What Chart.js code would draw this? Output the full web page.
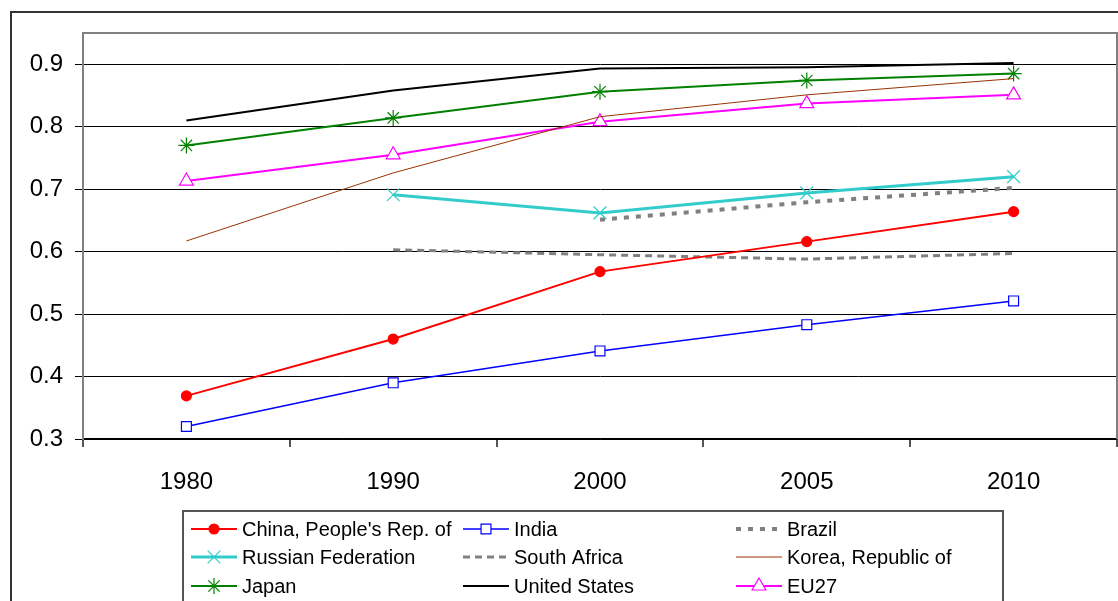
<!DOCTYPE html>
<html lang="en">
<head>
<meta charset="UTF-8">
<title>Index by country, 1980-2010</title>
<script src="https://cdn.jsdelivr.net/npm/chart.js"></script>
<style>
    html, body { margin: 0; padding: 0; background: #fff; overflow: hidden; }
    #wrap { position: relative; width: 1118px; height: 601px; }
    #frame { position: absolute; left: 10px; top: 11px; width: 1200px; height: 700px; border: 2px solid #333; box-sizing: border-box; }
    #chart { position: absolute; left: 0; top: 0; }
</style>
</head>
<body>
<div id="wrap">
    <div id="frame"></div>
    <canvas id="chart" width="1118" height="601"></canvas>
</div>
<script>
// values
const years = ['1980', '1990', '2000', '2005', '2010'];
const china = [0.369, 0.460, 0.568, 0.616, 0.664];
const india = [0.320, 0.390, 0.441, 0.483, 0.521];
const brazil = [null, null, 0.651, 0.679, 0.702];
const russia = [null, 0.691, 0.662, 0.694, 0.720];
const southAfrica = [null, 0.603, 0.595, 0.588, 0.597];
const korea = [0.617, 0.726, 0.816, 0.851, 0.877];
const japan = [0.770, 0.814, 0.856, 0.874, 0.885];
const usa = [0.810, 0.858, 0.893, 0.895, 0.902];
const eu27 = [0.713, 0.755, 0.808, 0.837, 0.851];
const yTicks = [0.3, 0.4, 0.5, 0.6, 0.7, 0.8, 0.9];

const font = "'Liberation Sans', Arial, sans-serif";

function series(label, data, color, width, extra) {
    return Object.assign({
        label: label,
        data: data,
        borderColor: color,
        backgroundColor: color,
        borderWidth: width,
        pointStyle: false,
        pointRadius: 0,
        pointBorderColor: color,
        pointBackgroundColor: '#fff',
        pointBorderWidth: 1.2,
        tension: 0,
        spanGaps: false
    }, extra || {});
}

const datasets = [
    series("China, People's Rep. of", china, '#ff0000', 2, { pointStyle: 'circle', pointRadius: 5, pointBackgroundColor: '#ff0000' }),
    series('India', india, '#0000ff', 1.5, { pointStyle: 'rect', pointRadius: 7 }),
    series('Brazil', brazil, '#808080', 4, { borderDash: [5, 7] }),
    series('Russian Federation', russia, '#33cccc', 3, { pointStyle: 'crossRot', pointRadius: 9 }),
    series('South Africa', southAfrica, '#808080', 3, { borderDash: [7, 5] }),
    series('Korea, Republic of', korea, '#993300', 1),
    series('Japan', japan, '#008000', 2, { pointStyle: 'star', pointRadius: 8 }),
    series('United States', usa, '#000000', 2),
    series('EU27', eu27, '#ff00ff', 2, { pointStyle: 'triangle', pointRadius: 8 })
];

// plot frame (grey top/left/right) under the lines
const framePlugin = {
    id: 'plotFrame',
    beforeDatasetsDraw(chart) {
        const a = chart.chartArea, ctx = chart.ctx;
        ctx.save();
        ctx.strokeStyle = '#808080';
        ctx.lineWidth = 2;
        ctx.beginPath();
        ctx.moveTo(a.left, a.bottom);
        ctx.lineTo(a.left, a.top);
        ctx.lineTo(a.right, a.top);
        ctx.lineTo(a.right, a.bottom);
        ctx.stroke();
        ctx.restore();
    }
};

// boxed legend in three columns, like the original
const legendPlugin = {
    id: 'boxLegend',
    afterDraw(chart) {
        const ctx = chart.ctx;
        const colX = [191, 463, 736];
        const rowY = [529, 557, 586];
        ctx.save();
        ctx.strokeStyle = '#555';
        ctx.lineWidth = 2;
        ctx.strokeRect(183, 511, 820, 100);
        ctx.font = '20px ' + font;
        ctx.textBaseline = 'middle';
        chart.data.datasets.forEach((ds, i) => {
            const x = colX[i % 3], y = rowY[Math.floor(i / 3)];
            ctx.save();
            ctx.strokeStyle = ds.borderColor;
            ctx.lineWidth = ds.borderWidth;
            ctx.setLineDash(ds.borderDash || []);
            ctx.beginPath();
            ctx.moveTo(x, y);
            ctx.lineTo(x + 46, y);
            ctx.stroke();
            ctx.setLineDash([]);
            if (ds.pointStyle) {
                ctx.fillStyle = ds.pointBackgroundColor;
                ctx.strokeStyle = ds.pointBorderColor;
                ctx.lineWidth = ds.pointBorderWidth;
                Chart.helpers.drawPoint(ctx, {
                    pointStyle: ds.pointStyle,
                    radius: ds.pointRadius,
                    rotation: 0,
                    borderWidth: ds.pointBorderWidth
                }, x + 23, y);
            }
            ctx.restore();
            ctx.fillStyle = '#000';
            ctx.fillText(ds.label, x + 51, y + 1);
        });
        ctx.restore();
    }
};

new Chart(document.getElementById('chart'), {
    type: 'line',
    data: { labels: years, datasets: datasets },
    options: {
        responsive: false,
        animation: false,
        layout: { autoPadding: false, padding: { left: 0, top: 33, right: 1, bottom: 0 } },
        plugins: {
            legend: { display: false },
            tooltip: { enabled: false }
        },
        scales: {
            x: {
                offset: true,
                afterFit: (s) => { s.height = 162; },
                grid: { offset: true, drawOnChartArea: false, drawTicks: true, tickLength: 8, color: '#555', lineWidth: 2 },
                border: { color: '#000', width: 1.5 },
                ticks: { color: '#000', font: { family: font, size: 24 }, padding: 21, maxRotation: 0 }
            },
            y: {
                min: 0.3,
                max: 0.95,
                afterFit: (s) => { s.width = 83; },
                afterBuildTicks: (s) => { s.ticks = yTicks.map(v => ({ value: v })); },
                grid: { color: '#000', lineWidth: 1, drawTicks: true, tickLength: 8 },
                border: { color: '#808080', width: 2 },
                ticks: {
                    color: '#000',
                    font: { family: font, size: 24 },
                    padding: 12,
                    callback: (v) => Number(v).toFixed(1)
                }
            }
        }
    },
    plugins: [framePlugin, legendPlugin]
});
</script>
</body>
</html>
